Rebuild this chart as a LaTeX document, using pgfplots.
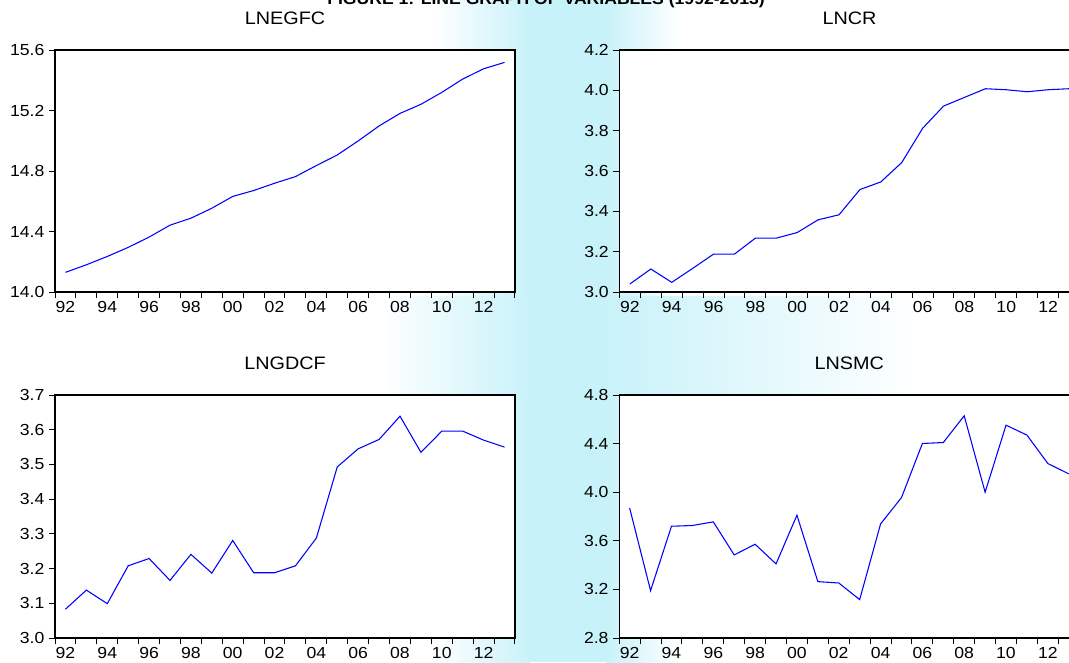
\documentclass[border=0pt]{standalone}
\usepackage{fontspec}
\setmainfont{Liberation Sans}[FakeStretch=1.1]
\usepackage{pgfplots}
\pgfplotsset{compat=1.18}
\usepackage{pgfplotstable}
\definecolor{wm}{RGB}{200,242,249}

\pgfplotstableread{
x y
1992.5 14.130
1993.5 14.180
1994.5 14.235
1995.5 14.295
1996.5 14.363
1997.5 14.442
1998.5 14.488
1999.5 14.554
2000.5 14.632
2001.5 14.671
2002.5 14.719
2003.5 14.763
2004.5 14.836
2005.5 14.906
2006.5 14.999
2007.5 15.098
2008.5 15.181
2009.5 15.241
2010.5 15.320
2011.5 15.408
2012.5 15.476
2013.5 15.518
}\lnegfc

\pgfplotstableread{
x y
1992.5 3.040
1993.5 3.114
1994.5 3.048
1995.5 3.117
1996.5 3.188
1997.5 3.188
1998.5 3.267
1999.5 3.267
2000.5 3.295
2001.5 3.358
2002.5 3.383
2003.5 3.508
2004.5 3.546
2005.5 3.642
2006.5 3.812
2007.5 3.922
2008.5 3.965
2009.5 4.008
2010.5 4.003
2011.5 3.993
2012.5 4.003
2013.5 4.008
}\lncr

\pgfplotstableread{
x y
1992.5 3.083
1993.5 3.138
1994.5 3.099
1995.5 3.208
1996.5 3.229
1997.5 3.166
1998.5 3.241
1999.5 3.187
2000.5 3.281
2001.5 3.188
2002.5 3.188
2003.5 3.208
2004.5 3.288
2005.5 3.493
2006.5 3.545
2007.5 3.572
2008.5 3.639
2009.5 3.535
2010.5 3.596
2011.5 3.596
2012.5 3.570
2013.5 3.550
}\lngdcf

\pgfplotstableread{
x y
1992.5 3.869
1993.5 3.190
1994.5 3.720
1995.5 3.726
1996.5 3.756
1997.5 3.484
1998.5 3.572
1999.5 3.410
2000.5 3.811
2001.5 3.264
2002.5 3.253
2003.5 3.116
2004.5 3.739
2005.5 3.956
2006.5 4.401
2007.5 4.409
2008.5 4.629
2009.5 4.000
2010.5 4.552
2011.5 4.470
2012.5 4.236
2013.5 4.151
}\lnsmc

\pgfplotsset{
  evstyle/.style={
    scale only axis, width=345pt,
    xmin=1992, xmax=2014,
    xtick={1992,...,2014},
    x tick label as interval,
    xticklabels={92,{},94,{},96,{},98,{},00,{},02,{},04,{},06,{},08,{},10,{},12,{}},
    xtick pos=bottom, ytick pos=left, tick align=outside,
    major tick length=4.5pt,
    tick style={black, line width=0.75pt},
    axis line style={black, line width=0.9pt},
    axis background/.style={fill=white},
    tick label style={font=\fontsize{12}{14}\selectfont, black},
    xticklabel style={yshift=1pt},
    /pgf/number format/assume math mode=true,
    yticklabel style={/pgf/number format/.cd, fixed, fixed zerofill, precision=1},
    title style={font=\fontsize{13.5}{16}\selectfont, at={(0.5,1)}, anchor=base, yshift=13.5pt},
  },
  evline/.style={color={rgb,255:red,0;green,0;blue,255}, line width=0.8pt}
}

\begin{document}
\begin{tikzpicture}
\useasboundingbox (0pt,0pt) rectangle (801.75pt,-496.5pt);
\clip (0pt,0pt) rectangle (801.75pt,-496.5pt);
% soft background watermark
\fill[wm] (397pt,0pt) rectangle (455pt,-496.5pt);
\shade[left color=white, right color=wm] (325pt,0pt) rectangle (397.5pt,-496.5pt);
\shade[left color=wm, right color=white] (454.5pt,0pt) rectangle (510pt,-496.5pt);
\shade[left color=white, right color=wm] (285pt,-222pt) rectangle (397.5pt,-296pt);
\shade[left color=wm, right color=white] (454.5pt,-222pt) rectangle (690pt,-296pt);

\node[anchor=base] at (409.5pt,-3pt) {\fontsize{12}{14}\selectfont\bfseries FIGURE 1: LINE GRAPH OF VARIABLES (1992-2013)};

\begin{axis}[evstyle, at={(41.25pt,-219pt)}, anchor=south west, height=181.5pt,
  ymin=14.0, ymax=15.6, ytick={14.0,14.4,14.8,15.2,15.6}, title={LNEGFC}]
\addplot[evline] table[x=x,y=y] {\lnegfc};
\end{axis}

\begin{axis}[evstyle, at={(464.6pt,-219pt)}, anchor=south west, height=181.5pt,
  ymin=3.0, ymax=4.2, ytick={3.0,3.2,3.4,3.6,3.8,4.0,4.2}, title={LNCR}]
\addplot[evline] table[x=x,y=y] {\lncr};
\end{axis}

\begin{axis}[evstyle, at={(41.25pt,-478.5pt)}, anchor=south west, height=182.25pt,
  ymin=3.0, ymax=3.7, ytick={3.0,3.1,3.2,3.3,3.4,3.5,3.6,3.7}, title={LNGDCF}]
\addplot[evline] table[x=x,y=y] {\lngdcf};
\end{axis}

\begin{axis}[evstyle, at={(464.4pt,-478.5pt)}, anchor=south west, height=182.25pt,
  ymin=2.8, ymax=4.8, ytick={2.8,3.2,3.6,4.0,4.4,4.8}, title={LNSMC}]
\addplot[evline] table[x=x,y=y] {\lnsmc};
\end{axis}
\end{tikzpicture}
\end{document}
